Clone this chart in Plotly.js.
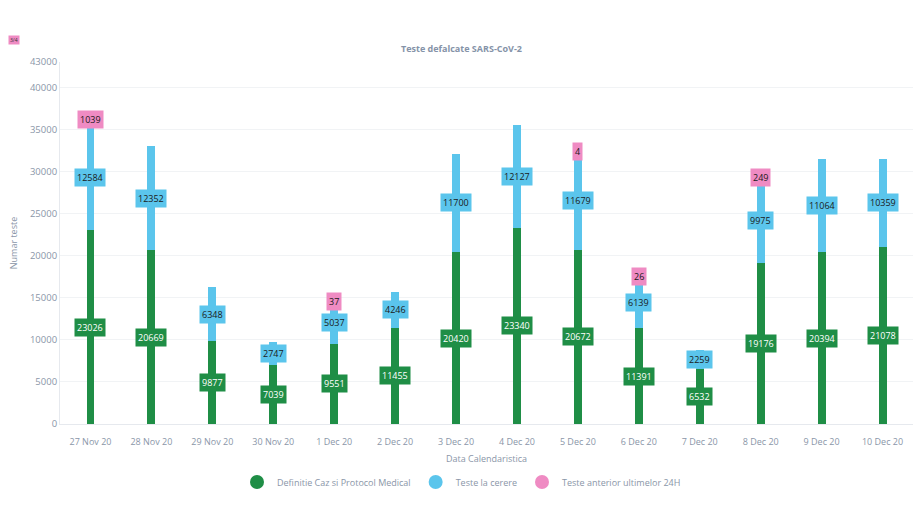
<!DOCTYPE html>
<html>
<head>
<meta charset="utf-8">
<script src="https://cdn.plot.ly/plotly-3.0.1.min.js"></script>
<style>html,body{margin:0;padding:0;background:#fff;}#chart{width:923px;height:507px;}</style>
</head>
<body>
<div id="chart"></div>
<script>
const dates = ["27 Nov 20","28 Nov 20","29 Nov 20","30 Nov 20","1 Dec 20","2 Dec 20","3 Dec 20","4 Dec 20","5 Dec 20","6 Dec 20","7 Dec 20","8 Dec 20","9 Dec 20","10 Dec 20"];
const definitieCaz = [23026,20669,9877,7039,9551,11455,20420,23340,20672,11391,6532,19176,20394,21078];
const testeCerere = [12584,12352,6348,2747,5037,4246,11700,12127,11679,6139,2259,9975,11064,10359];
const testeAnterior = [1039,0,0,0,37,0,0,0,4,26,0,249,0,0];
const seriesNames = ["Definitie Caz si Protocol Medical","Teste la cerere","Teste anterior ultimelor 24H"];
const yTicks = [0,5000,10000,15000,20000,25000,30000,35000,40000,43000];

const colors = ["#1f8e46","#5bc5ec","#ef8bc3"];
const textColors = ["#ffffff","#1a1a1a","#1a1a1a"];
const series = [definitieCaz, testeCerere, testeAnterior];
const font = "Open Sans, sans-serif";

const traces = [];
series.forEach((vals, i) => {
  traces.push({
    type: "bar", x: dates, y: vals, name: seriesNames[i],
    marker: {color: colors[i]}, showlegend: false, hoverinfo: "x+y+name"
  });
});
series.forEach((vals, i) => {
  traces.push({
    type: "scatter", mode: "markers", x: [null], y: [null], name: seriesNames[i],
    marker: {color: colors[i], size: 14, symbol: "circle"}, showlegend: true
  });
});

const annotations = [];
series.forEach((vals, i) => {
  vals.forEach((v, j) => {
    if (!v) return;
    let base = 0;
    for (let k = 0; k < i; k++) base += series[k][j];
    annotations.push({
      x: dates[j], y: base + v / 2, xref: "x", yref: "y",
      text: String(v), showarrow: false,
      bgcolor: colors[i], borderpad: 2,
      font: {family: font, size: 9, color: textColors[i]}
    });
  });
});
annotations.push({
  xref: "paper", yref: "paper", x: 0, y: 1.06, xanchor: "left", yanchor: "middle",
  xshift: -52, text: "3/4", showarrow: false, bgcolor: colors[2], borderpad: 1,
  font: {family: font, size: 5, color: "#333"}
});

const layout = {
  width: 923, height: 507,
  margin: {l: 60, r: 10, t: 62, b: 83},
  paper_bgcolor: "#fff", plot_bgcolor: "#fff",
  barmode: "stack", bargap: 0.87,
  font: {family: font, size: 9, color: "#8a96a8"},
  title: {text: "<b>Teste defalcate SARS-CoV-2</b>", x: 0.5, xref: "container", y: 1 - 49/507, yref: "container", yanchor: "middle",
    font: {family: font, size: 9, color: "#8593a8"}},
  xaxis: {
    type: "category", showgrid: false, showline: true, linecolor: "#e6e9ee",
    ticks: "outside", ticklen: 9, tickcolor: "rgba(0,0,0,0)",
    tickfont: {family: font, size: 9, color: "#8a96a8"},
    title: {text: "Data Calendaristica", standoff: 8, font: {family: font, size: 9, color: "#8a96a8"}}
  },
  yaxis: {
    range: [0, 43000], tickvals: yTicks, ticktext: yTicks.map(String),
    showgrid: true, gridcolor: "#f1f3f5", zeroline: false, showline: true, linecolor: "#e6e9ee",
    ticks: "", tickfont: {family: font, size: 9.5, color: "#8a96a8"},
    title: {text: "Numar teste", standoff: 10, font: {family: font, size: 9, color: "#8a96a8"}}
  },
  legend: {orientation: "h", traceorder: "normal", xref: "container", x: 0.5, xanchor: "center", yref: "container", y: 1 - 482/507, yanchor: "middle",
    font: {family: font, size: 9, color: "#8a96a8"}, itemsizing: "trace", itemwidth: 30},
  annotations: annotations,
  showlegend: true
};

Plotly.newPlot("chart", traces, layout, {displayModeBar: false, staticPlot: true});
</script>
</body>
</html>
